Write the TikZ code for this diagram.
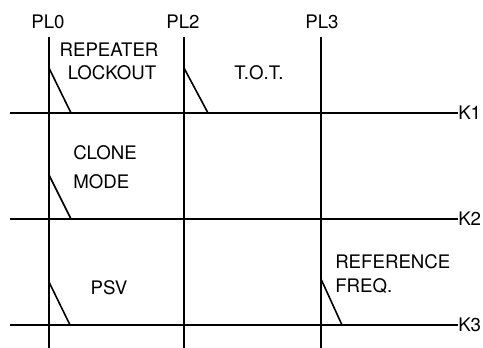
\documentclass[tikz,border=0pt]{standalone}
\usepackage{fontspec}
\setmainfont{TeX Gyre Heros}
\tikzset{
  bus/.style={line width=1.4pt},
  sw/.style={line width=1.2pt},
  lbl/.style={inner sep=0pt,font=\fontsize{14}{16}\selectfont}
}
\begin{document}
\begin{tikzpicture}[x=0.75pt,y=-0.75pt]
  \useasboundingbox (0,0) rectangle (483,348);
  % column labels and lines
  \node[lbl] (pl0) at (48,22) {PL0};
  \node[lbl] (pl2) at (183,22) {PL2};
  \node[lbl] (pl3) at (322,22) {PL3};
  \coordinate (pl0t) at (49,37);  \coordinate (pl0b) at (49,348);
  \coordinate (pl2t) at (184,37); \coordinate (pl2b) at (184,348);
  \coordinate (pl3t) at (321,37); \coordinate (pl3b) at (321,348);
  \draw[bus] (pl0t) -- (pl0b);
  \draw[bus] (pl2t) -- (pl2b);
  \draw[bus] (pl3t) -- (pl3b);
  % row lines
  \node[lbl,anchor=west] (k1) at (458,113) {K1};
  \node[lbl,anchor=west] (k2) at (458,219) {K2};
  \node[lbl,anchor=west] (k3) at (458,325) {K3};
  \coordinate (k1a) at (10,113);
  \coordinate (k2a) at (10,219);
  \coordinate (k3a) at (10,325);
  \draw[bus] (k1a) -- (k1.west);
  \draw[bus] (k2a) -- (k2.west);
  \draw[bus] (k3a) -- (k3.west);
  % switches
  \coordinate (s1) at (49,68);  \coordinate (s1e) at (71,113);
  \coordinate (s2) at (184,68); \coordinate (s2e) at (208,113);
  \coordinate (s3) at (49,175); \coordinate (s3e) at (71,219);
  \coordinate (s4) at (49,282); \coordinate (s4e) at (70,325);
  \coordinate (s5) at (321,279); \coordinate (s5e) at (342,325);
  \draw[sw] (s1) -- (s1e);
  \draw[sw] (s2) -- (s2e);
  \draw[sw] (s3) -- (s3e);
  \draw[sw] (s4) -- (s4e);
  \draw[sw] (s5) -- (s5e);
  % function texts
  \node[lbl] (rep) at (109,50) {REPEATER};
  \node[lbl] (lock) at (112,73) {LOCKOUT};
  \node[lbl] (tot) at (259,73) {T.O.T.};
  \node[lbl,anchor=west] (clone) at (73,153) {CLONE};
  \node[lbl,anchor=west] (mode) at (73,182) {MODE};
  \node[lbl] (psv) at (109,288) {PSV};
  \node[lbl,anchor=west] (ref) at (335,262) {REFERENCE};
  \node[lbl,anchor=west] (freq) at (335,286) {FREQ.};
\end{tikzpicture}
\end{document}
